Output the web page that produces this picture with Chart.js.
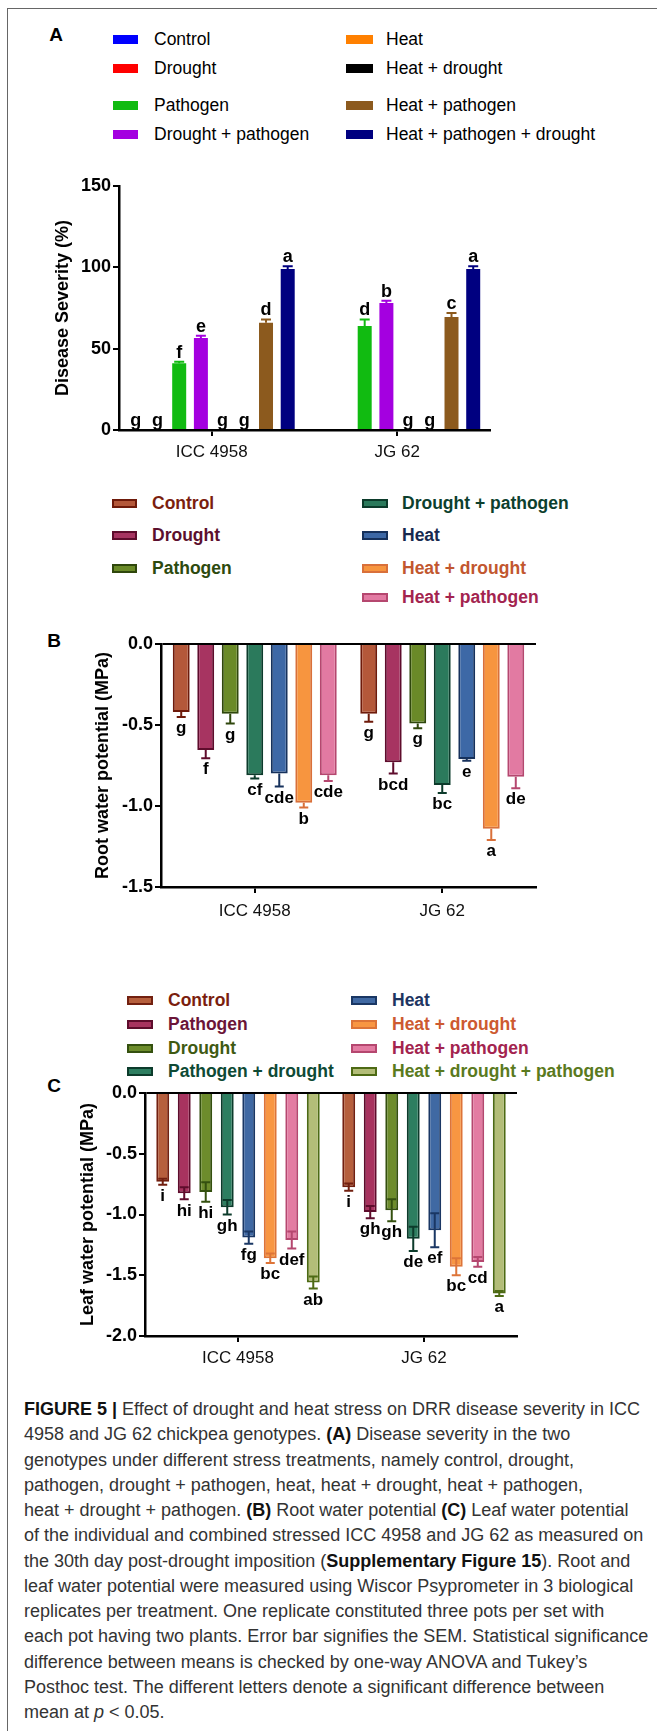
<!DOCTYPE html>
<html lang="en">
<head>
<meta charset="UTF-8" />
<title>Figure 5 - drought, heat and DRR in chickpea</title>
<script src="https://cdn.jsdelivr.net/npm/chart.js@4.4.3/dist/chart.umd.min.js"></script>
<style>
  body { margin: 0; background: #fff; font-family: "Liberation Sans", Arial, sans-serif; }
  #page { position: relative; width: 657px; height: 1731px; overflow: hidden; }
  .frame { position: absolute; left: 7px; top: 8px; width: 700px; height: 1800px;
           border-left: 1.5px solid #666; border-top: 1.5px solid #666; }
  canvas { position: absolute; left: 0; }
  .tag { position: absolute; font-weight: bold; font-size: 19px; line-height: 20px; transform: translate(-50%, -50%); }
  .leg { position: absolute; font-size: 17.5px; line-height: 20px; white-space: nowrap; }
  .sw { position: absolute; box-sizing: border-box; }
  #caption { position: absolute; left: 24px; top: 1397px; font-family: "Liberation Sans", Arial, sans-serif;
             font-size: 18px; line-height: 25.25px; color: #333; white-space: nowrap; }
  #caption b { color: #111; }
</style>
</head>
<body>
<div id="page">
  <div class="frame"></div>

  <div class="tag" style="left:56px; top:35px">A</div>
  <div id="legA"></div>
  <canvas id="chartA" width="657" height="330" style="top:150px"></canvas>

  <div id="legB"></div>
  <div class="tag" style="left:54px; top:641px">B</div>
  <canvas id="chartB" width="657" height="330" style="top:600px"></canvas>

  <div id="legC"></div>
  <div class="tag" style="left:54px; top:1086px">C</div>
  <canvas id="chartC" width="657" height="320" style="top:1050px"></canvas>

  <div id="caption">
    <div><b>FIGURE 5 |</b> Effect of drought and heat stress on DRR disease severity in ICC</div>
    <div>4958 and JG 62 chickpea genotypes. <b>(A)</b> Disease severity in the two</div>
    <div>genotypes under different stress treatments, namely control, drought,</div>
    <div>pathogen, drought + pathogen, heat, heat + drought, heat + pathogen,</div>
    <div>heat + drought + pathogen. <b>(B)</b> Root water potential <b>(C)</b> Leaf water potential</div>
    <div>of the individual and combined stressed ICC 4958 and JG 62 as measured on</div>
    <div>the 30th day post-drought imposition (<b>Supplementary Figure 15</b>). Root and</div>
    <div>leaf water potential were measured using Wiscor Psyprometer in 3 biological</div>
    <div>replicates per treatment. One replicate constituted three pots per set with</div>
    <div>each pot having two plants. Error bar signifies the SEM. Statistical significance</div>
    <div>difference between means is checked by one-way ANOVA and Tukey’s</div>
    <div>Posthoc test. The different letters denote a significant difference between</div>
    <div>mean at <i>p</i> &lt; 0.05.</div>
  </div>
</div>

<script>
  const genotypes = ['ICC 4958', 'JG 62'];

  // (A) disease severity, %
  const seriesA = ['Control', 'Drought', 'Pathogen', 'Drought + pathogen',
                   'Heat', 'Heat + drought', 'Heat + pathogen', 'Heat + pathogen + drought'];
  const severityICC    = [0, 0, 41, 56.5, 0, 0, 66, 99];
  const severityJG     = [0, 0, 64, 78, 0, 0, 69.5, 99];
  const severityErrICC = [0, 0, 1, 1.5, 0, 0, 2, 1.6];
  const severityErrJG  = [0, 0, 4, 1.5, 0, 0, 2.5, 1.6];
  const lettersA_ICC   = ['g', 'g', 'f', 'e', 'g', 'g', 'd', 'a'];
  const lettersA_JG    = ['', '', 'd', 'b', 'g', 'g', 'c', 'a'];
  const ticksA = [0, 50, 100, 150];

  // (B) root water potential, MPa
  const seriesB = ['Control', 'Drought', 'Pathogen', 'Drought + pathogen',
                   'Heat', 'Heat + drought', 'Heat + pathogen'];
  const rootICC    = [-0.42, -0.655, -0.43, -0.81, -0.80, -0.98, -0.81];
  const rootJG     = [-0.43, -0.73, -0.49, -0.87, -0.71, -1.14, -0.82];
  const rootErrICC = [0.03, 0.05, 0.06, 0.02, 0.08, 0.03, 0.035];
  const rootErrJG  = [0.05, 0.07, 0.03, 0.05, 0.01, 0.07, 0.07];
  const lettersB_ICC = ['g', 'f', 'g', 'cf', 'cde', 'b', 'cde'];
  const lettersB_JG  = ['g', 'bcd', 'g', 'bc', 'e', 'a', 'de'];
  const ticksB = [-1.5, -1.0, -0.5, 0.0];

  // (C) leaf water potential, MPa
  const seriesC = ['Control', 'Pathogen', 'Drought', 'Pathogen + drought',
                   'Heat', 'Heat + drought', 'Heat + pathogen', 'Heat + drought + pathogen'];
  const leafICC    = [-0.73, -0.825, -0.815, -0.94, -1.19, -1.36, -1.21, -1.56];
  const leafJG     = [-0.775, -0.98, -0.965, -1.20, -1.13, -1.43, -1.39, -1.65];
  const leafErrICC = [0.025, 0.05, 0.08, 0.06, 0.05, 0.04, 0.07, 0.05];
  const leafErrJG  = [0.03, 0.05, 0.09, 0.10, 0.14, 0.07, 0.04, 0.02];
  const lettersC_ICC = ['i', 'hi', 'hi', 'gh', 'fg', 'bc', 'def', 'ab'];
  const lettersC_JG  = ['i', 'gh', 'gh', 'de', 'ef', 'bc', 'cd', 'a'];
  const ticksC = [-2.0, -1.5, -1.0, -0.5, 0.0];

  // colours (fill, outline, legend text)
  const fillA = ['#0000ff', '#ff0000', '#11bb11', '#a400e0', '#ff8000', '#000000', '#8c5a1e', '#000080'];
  const fillB = ['#b4583a', '#a73461', '#6a8a28', '#2b7a5c', '#3d68a6', '#f7953f', '#e27aa2'];
  const lineB = ['#6e1a0a', '#5e0c2c', '#2f470c', '#0c3b2b', '#16315c', '#d9703a', '#b5476f'];
  const textB = ['#7b1e0e', '#5c0f2e', '#2d4a0e', '#0d3f2e', '#17294f', '#c2572f', '#a3244f'];
  const fillC = ['#b65f3d', '#a8335f', '#6d8c2c', '#2d7e60', '#4069a3', '#f89642', '#e37ca2', '#b3bd78'];
  const lineC = ['#722010', '#5e0c2c', '#34500f', '#0c3b2b', '#1a3764', '#dd7438', '#b5476f', '#4d6a14'];
  const textC = ['#7b1e0e', '#6b1538', '#3f5a12', '#0e4a35', '#1e3562', '#cd5a30', '#a3244f', '#5a7a1e'];

  // html legends: two columns
  function legend(id, names, fills, lines, texts, cols, rows, bold) {
    const box = document.getElementById(id);
    names.forEach((n, i) => {
      const c = cols[i], yc = rows[i];
      const sw = document.createElement('div');
      sw.className = 'sw';
      sw.style.cssText = `left:${c[0]}px; top:${yc - 4.5}px; width:${c[1]}px; height:9px; background:${fills[i]};` +
        (lines ? `border:2px solid ${lines[i]};` : '');
      const tx = document.createElement('div');
      tx.className = 'leg';
      tx.textContent = n;
      tx.style.cssText = `left:${c[2]}px; top:${yc - 10}px; color:${texts ? texts[i] : '#000'};` +
        (bold ? 'font-weight:bold;' : '');
      box.appendChild(sw); box.appendChild(tx);
    });
  }
  const colA1 = [113, 25, 154], colA2 = [346, 27, 386];
  legend('legA', seriesA, fillA, null, null,
    [colA1, colA1, colA1, colA1, colA2, colA2, colA2, colA2],
    [39, 68, 105, 134, 39, 68, 105, 134], false);
  const colB1 = [112, 25, 152], colB2 = [362, 26, 402];
  legend('legB', seriesB, fillB, lineB, textB,
    [colB1, colB1, colB1, colB2, colB2, colB2, colB2],
    [503, 535, 568, 503, 535, 568, 597], true);
  const colC1 = [127, 26, 168], colC2 = [351, 26, 392];
  legend('legC', seriesC, fillC, lineC, textC,
    [colC1, colC1, colC1, colC1, colC2, colC2, colC2, colC2],
    [1000, 1024, 1048, 1071, 1000, 1024, 1048, 1071], true);

  // error bars + significance letters
  const errLetters = {
    id: 'errLetters',
    afterDatasetsDraw(chart, args, opts) {
      const ctx = chart.ctx, y = chart.scales.y;
      ctx.save();
      chart.data.datasets.forEach((ds, i) => {
        chart.getDatasetMeta(i).data.forEach((bar, j) => {
          const v = ds.data[j], e = ds.err[j], x = bar.x;
          const hi = y.getPixelForValue(v + e), lo = y.getPixelForValue(v - e), mid = y.getPixelForValue(v);
          if (e > 0) {
            const from = opts.mode === 'both' ? hi : mid;
            const to = opts.mode === 'up' ? hi : lo;
            ctx.strokeStyle = ds.errColor;
            ctx.lineWidth = opts.lw;
            ctx.beginPath();
            ctx.moveTo(x, from); ctx.lineTo(x, to);
            ctx.moveTo(x - opts.cap / 2, to); ctx.lineTo(x + opts.cap / 2, to);
            if (opts.mode === 'both') { ctx.moveTo(x - opts.cap / 2, hi); ctx.lineTo(x + opts.cap / 2, hi); }
            ctx.stroke();
          }
          const t = ds.letters[j];
          if (t) {
            ctx.fillStyle = '#000';
            ctx.font = opts.font;
            ctx.textAlign = 'center';
            if (opts.mode === 'up') { ctx.textBaseline = 'alphabetic'; ctx.fillText(t, x, hi - 4); }
            else { ctx.textBaseline = 'top'; ctx.fillText(t, x, lo + 3); }
          }
        });
      });
      ctx.restore();
    }
  };

  const FONT = '"Liberation Sans", Arial, sans-serif';

  function makeChart(id, datasets, cfg) {
    const zeroLine = c => (c.tick && c.tick.value === 0) ? '#000' : 'rgba(0,0,0,0)';
    return new Chart(document.getElementById(id), {
      type: 'bar',
      data: { labels: genotypes, datasets: datasets },
      options: {
        responsive: false,
        animation: false,
        layout: { padding: { left: 0, top: cfg.top, right: cfg.right, bottom: cfg.bottom } },
        datasets: { bar: { categoryPercentage: cfg.cat, barPercentage: cfg.bar } },
        plugins: { legend: { display: false }, tooltip: { enabled: false }, errLetters: cfg.err },
        scales: {
          x: {
            afterFit: s => { s.height = cfg.xh; },
            grid: { offset: false, drawOnChartArea: false, tickLength: 6, color: '#000', lineWidth: 2 },
            border: { display: true, color: '#000', width: 2.5 },
            ticks: { color: '#111', font: { family: FONT, size: 17 }, padding: cfg.xpad, maxRotation: 0 }
          },
          y: {
            min: cfg.ticks[0], max: cfg.ticks[cfg.ticks.length - 1],
            afterFit: s => { s.width = cfg.left; },
            afterBuildTicks: s => { s.ticks = cfg.ticks.map(v => ({ value: v })); },
            ticks: { color: '#000', font: { family: FONT, size: 18, weight: 'bold' }, padding: 2, callback: cfg.fmt },
            grid: { drawOnChartArea: cfg.zero, color: cfg.zero ? zeroLine : '#000', tickColor: '#000',
                    lineWidth: 2, tickLength: 6 },
            border: { display: true, color: '#000', width: 2.5 },
            title: { display: true, text: cfg.title, color: '#000',
                     font: { family: FONT, size: 18, weight: 'bold' }, padding: { top: cfg.titleX - 10.8, bottom: 0 } }
          }
        }
      },
      plugins: [errLetters]
    });
  }

  const dsA = seriesA.map((n, i) => ({
    label: n, data: [severityICC[i], severityJG[i]], err: [severityErrICC[i], severityErrJG[i]],
    letters: [lettersA_ICC[i], lettersA_JG[i]], backgroundColor: fillA[i], errColor: fillA[i], borderWidth: 0
  }));
  makeChart('chartA', dsA, {
    top: 36, right: 167, bottom: 10, xh: 40, left: 119, xpad: 6, cat: 0.936, bar: 0.645,
    ticks: ticksA, fmt: v => String(v), zero: false, title: 'Disease Severity (%)', titleX: 63,
    err: { mode: 'up', cap: 10, lw: 2, font: 'bold 18px ' + FONT }
  });

  const dsB = seriesB.map((n, i) => ({
    label: n, data: [rootICC[i], rootJG[i]], err: [rootErrICC[i], rootErrJG[i]],
    letters: [lettersB_ICC[i], lettersB_JG[i]], backgroundColor: fillB[i], borderColor: lineB[i],
    errColor: lineB[i], borderWidth: 2
  }));
  makeChart('chartB', dsB, {
    top: 44, right: 121, bottom: 10, xh: 33, left: 161, xpad: 8, cat: 0.915, bar: 0.69,
    ticks: ticksB, fmt: v => v.toFixed(1), zero: true, title: 'Root water potential (MPa)', titleX: 103,
    err: { mode: 'down', cap: 9, lw: 2, font: 'bold 17px ' + FONT }
  });

  const dsC = seriesC.map((n, i) => ({
    label: n, data: [leafICC[i], leafJG[i]], err: [leafErrICC[i], leafErrJG[i]],
    letters: [lettersC_ICC[i], lettersC_JG[i]], backgroundColor: fillC[i], borderColor: lineC[i],
    errColor: lineC[i], borderWidth: 2
  }));
  makeChart('chartC', dsC, {
    top: 43, right: 140, bottom: 4, xh: 30, left: 145, xpad: 6, cat: 0.925, bar: 0.6,
    ticks: ticksC, fmt: v => v.toFixed(1), zero: true, title: 'Leaf water potential (MPa)', titleX: 88,
    err: { mode: 'both', cap: 9, lw: 2, font: 'bold 17px ' + FONT }
  });
</script>
</body>
</html>
